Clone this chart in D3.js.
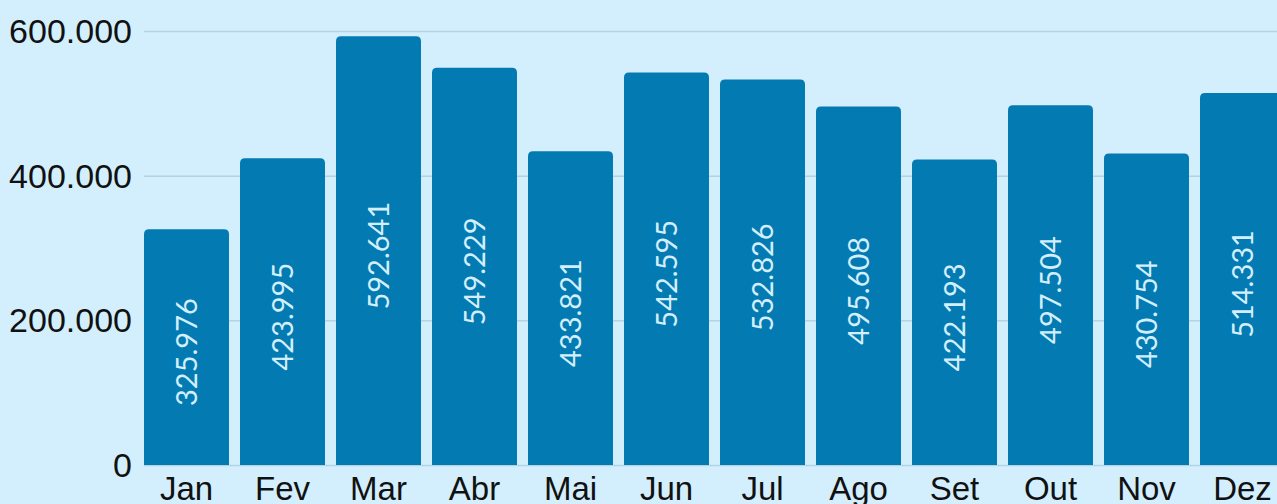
<!DOCTYPE html>
<html>
<head>
  <script src="https://d3js.org/d3.v7.min.js"></script>
  <style>
    html, body { margin: 0; padding: 0; background: #d3effd; }
    svg { display: block; }
  </style>
</head>
<body>
  <svg id="chart" width="1277" height="504"></svg>
  <script>
    const months = ["Jan", "Fev", "Mar", "Abr", "Mai", "Jun", "Jul", "Ago", "Set", "Out", "Nov", "Dez"];
    const values = [325976, 423995, 592641, 549229, 433821, 542595, 532826, 495608, 422193, 497504, 430754, 514331];
    const yTicks = [0, 200000, 400000, 600000];

    const svg = d3.select("#chart");
    const plotLeft = 144, plotBottom = 465, plotTop = 31;

    const x = d3.scaleBand()
      .domain(months)
      .range([plotLeft, plotLeft + 12 * 96 - 11])
      .paddingInner(11 / 96)
      .paddingOuter(0);

    const y = d3.scaleLinear()
      .domain([0, 600000])
      .range([plotBottom, plotTop]);

    const fmt = v => d3.format(",")(v).replace(/,/g, ".");

    // gridlines
    svg.append("g")
      .selectAll("line")
      .data(yTicks)
      .enter().append("line")
      .attr("x1", plotLeft)
      .attr("x2", 1277)
      .attr("y1", d => y(d) + 0.5)
      .attr("y2", d => y(d) + 0.5)
      .attr("stroke", "#b3d2e3")
      .attr("stroke-width", 1.5);

    // y tick labels
    svg.append("g")
      .selectAll("text")
      .data(yTicks)
      .enter().append("text")
      .attr("x", 132)
      .attr("y", d => y(d) + 12)
      .attr("text-anchor", "end")
      .attr("font-family", "Liberation Sans, Arial, sans-serif")
      .attr("font-size", 34)
      .attr("fill", "#111")
      .text(d => d === 0 ? "0" : fmt(d));

    // bars with rounded top corners
    const r = 5;
    function barPath(d, i) {
      const x0 = x(months[i]), w = x.bandwidth();
      const y0 = y(d), y1 = y(0);
      return `M${x0},${y1}V${y0 + r}Q${x0},${y0} ${x0 + r},${y0}H${x0 + w - r}Q${x0 + w},${y0} ${x0 + w},${y0 + r}V${y1}Z`;
    }

    svg.append("g")
      .selectAll("path")
      .data(values)
      .enter().append("path")
      .attr("d", barPath)
      .attr("fill", "#047ab3");

    // value labels
    svg.append("g")
      .selectAll("text")
      .data(values)
      .enter().append("text")
      .attr("transform", (d, i) => {
        const cx = x(months[i]) + x.bandwidth() / 2;
        const cy = (y(d) + y(0)) / 2 + 5;
        return `translate(${cx},${cy}) rotate(-90)`;
      })
      .attr("text-anchor", "middle")
      .attr("dy", "0.36em")
      .attr("font-family", "Lato, sans-serif")
      .attr("font-size", 29)
      .attr("fill", "#d3effd")
      .text(d => fmt(d));

    // x tick labels
    svg.append("g")
      .selectAll("text")
      .data(months)
      .enter().append("text")
      .attr("x", d => x(d) + x.bandwidth() / 2)
      .attr("y", 500)
      .attr("text-anchor", "middle")
      .attr("font-family", "Liberation Sans, Arial, sans-serif")
      .attr("font-size", 33)
      .attr("fill", "#111")
      .text(d => d);
  </script>
</body>
</html>
